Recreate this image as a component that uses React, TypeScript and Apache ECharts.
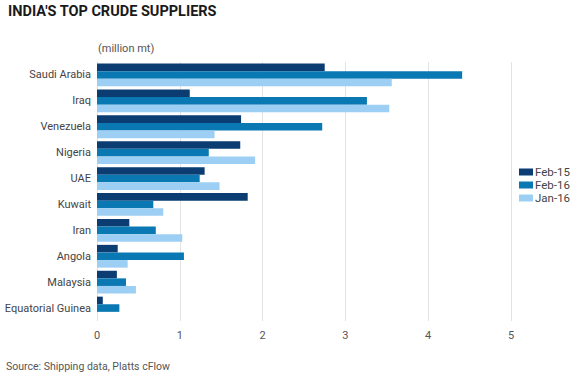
import React, { useEffect, useRef } from "react";
import * as echarts from "echarts";

const categories = [
  "Saudi Arabia",
  "Iraq",
  "Venezuela",
  "Nigeria",
  "UAE",
  "Kuwait",
  "Iran",
  "Angola",
  "Malaysia",
  "Equatorial Guinea",
];
const feb15 = [2.75, 1.12, 1.74, 1.73, 1.3, 1.82, 0.39, 0.25, 0.24, 0.07];
const feb16 = [4.41, 3.26, 2.72, 1.35, 1.24, 0.68, 0.71, 1.05, 0.35, 0.27];
const jan16 = [3.56, 3.53, 1.42, 1.91, 1.48, 0.8, 1.03, 0.37, 0.47, 0];
const seriesNames = ["Feb-15", "Feb-16", "Jan-16"];

const FONT = "Roboto, 'Noto Sans', sans-serif";

export default function App() {
  const ref = useRef<HTMLDivElement>(null);
  useEffect(() => {
    const chart = echarts.init(ref.current!, null, { renderer: "svg" });
    const colors = ["#0b3c72", "#0a79b3", "#9ccff3"];
    const data = [feb15, feb16, jan16];
    chart.setOption({
      animation: false,
      textStyle: { fontFamily: FONT },
      title: [
        {
          text: "INDIA'S TOP CRUDE SUPPLIERS",
          left: 8,
          top: 4,
          padding: 0,
          textStyle: {
            fontFamily: FONT,
            fontSize: 14.5,
            fontWeight: "bold",
            color: "#1a1a1a",
          },
        },
        {
          text: "(million mt)",
          left: 98,
          top: 43,
          padding: 0,
          textStyle: { fontFamily: FONT, fontSize: 11, fontWeight: "normal", color: "#555" },
        },
        {
          text: "Source: Shipping data, Platts cFlow",
          left: 6,
          top: 361,
          padding: 0,
          textStyle: { fontFamily: FONT, fontSize: 10.5, fontWeight: "normal", color: "#555" },
        },
      ],
      legend: {
        orient: "vertical",
        left: 514,
        top: 161,
        itemWidth: 14,
        itemHeight: 7,
        itemGap: 1,
        icon: "rect",
        textStyle: { fontFamily: FONT, fontSize: 11.5, color: "#444", padding: [0, 0, 0, -3] },
        data: seriesNames,
      },
      grid: { left: 97, right: 69, top: 62, bottom: 59, containLabel: false },
      xAxis: {
        type: "value",
        min: 0,
        max: 5,
        interval: 1,
        axisLine: { show: false },
        axisTick: { show: false },
        splitLine: { show: true, lineStyle: { color: "#e3e3e3", width: 1 } },
        axisLabel: { fontFamily: FONT, fontSize: 11, color: "#555", margin: 9 },
      },
      yAxis: {
        type: "category",
        data: categories,
        inverse: true,
        axisLine: { show: false },
        axisTick: { show: false },
        axisLabel: { fontFamily: FONT, fontSize: 11, color: "#444", margin: 6 },
      },
      series: seriesNames.map((name, i) => ({
        name,
        type: "bar",
        data: data[i],
        barGap: "0%",
        barCategoryGap: "12%",
        itemStyle: { color: colors[i] },
      })),
    });
    return () => chart.dispose();
  }, []);
  return <div ref={ref} style={{ width: 580, height: 380, position: "absolute", left: 0, top: 0 }} />;
}
